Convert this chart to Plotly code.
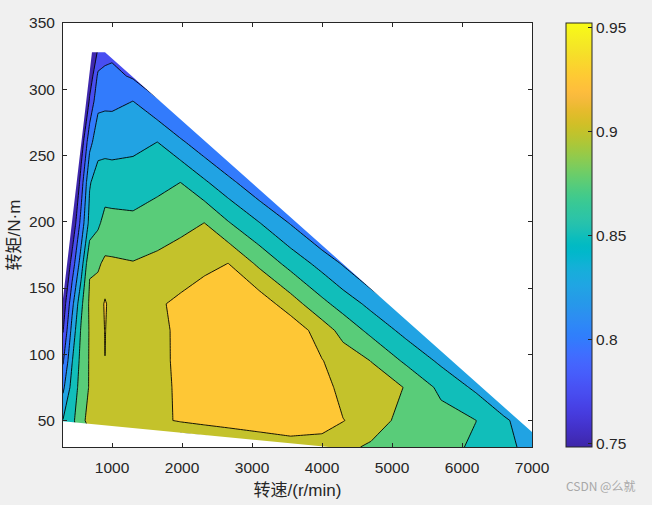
import plotly.graph_objects as go

# ---------------- data ----------------
speed = [300, 430, 560, 680, 800, 900, 1000, 1300, 1650, 1980, 2320, 2660,
         3100, 3550, 4000, 4300, 4700, 5200, 5700, 6200, 6600, 7000]
torque = [30, 50, 75, 95, 118, 138, 168.5, 199, 229.5, 260, 291, 310, 330]

eff_t30 = [0.86, 0.865, 0.88, 0.893, 0.899, 0.903, 0.904, 0.905, 0.905, 0.87, 0.875, 0.886,
           0.9025, 0.9146, 0.915, 0.905, 0.897, 0.889, 0.8815, 0.8718, 0.8569, 0.842]
eff_t50 = [0.851, 0.8677, 0.8956, 0.905, 0.909, 0.911, 0.912, 0.915, 0.919, 0.928, 0.935, 0.94,
           0.942, 0.94, 0.935, 0.926, 0.911, 0.892, 0.885, 0.8752, 0.8544, 0.8333]
eff_t75 = [0.8193, 0.8594, 0.8852, 0.902, 0.909, 0.913, 0.913, 0.916, 0.92, 0.928, 0.937, 0.944,
           0.948, 0.948, 0.94, 0.913, 0.911, 0.899, 0.8688, 0.845, 0.8205, 0.797]
eff_t95 = [0.797, 0.8487, 0.883, 0.902, 0.91, 0.9248, 0.914, 0.917, 0.92, 0.929, 0.938, 0.946,
           0.951, 0.952, 0.926, 0.913, 0.8996, 0.8704, 0.845, 0.813, 0.783, 0.753]
eff_t118 = [0.7733, 0.8337, 0.8782, 0.902, 0.911, 0.926, 0.915, 0.917, 0.919, 0.93, 0.938, 0.945,
            0.948, 0.942, 0.9123, 0.8918, 0.8684, 0.8419, 0.8092, 0.7718, 0.742, 0.71]
eff_t138 = [0.758, 0.8178, 0.8695, 0.904, 0.911, 0.928, 0.915, 0.918, 0.922, 0.93, 0.94, 0.945,
            0.94, 0.9118, 0.8817, 0.8647, 0.8431, 0.8108, 0.7736, 0.74, 0.71, 0.68]
eff_t168 = [0.732, 0.7854, 0.8375, 0.8975, 0.897, 0.904, 0.9035, 0.9012, 0.906, 0.9116, 0.9183, 0.9252,
            0.8948, 0.8665, 0.8411, 0.8226, 0.7941, 0.7566, 0.72, 0.69, 0.66, 0.63]
eff_t199 = [0.70, 0.7518, 0.8092, 0.858, 0.8705, 0.8832, 0.8825, 0.8807, 0.887, 0.8935, 0.9002, 0.877,
            0.8512, 0.8235, 0.7927, 0.7717, 0.73, 0.69, 0.66, 0.63, 0.60, 0.57]
eff_t229 = [0.66, 0.72, 0.7875, 0.848, 0.8615, 0.8624, 0.8617, 0.8618, 0.8686, 0.8752, 0.8541, 0.8331,
            0.8046, 0.7733, 0.74, 0.72, 0.69, 0.66, 0.63, 0.60, 0.57, 0.54]
eff_t260 = [0.63, 0.67, 0.7594, 0.8173, 0.8403, 0.8416, 0.8409, 0.8436, 0.8502, 0.8296, 0.8081, 0.785,
            0.754, 0.72, 0.69, 0.67, 0.64, 0.61, 0.58, 0.55, 0.52, 0.49]
eff_t291 = [0.60, 0.63, 0.70, 0.7794, 0.8186, 0.8198, 0.8197, 0.8251, 0.8037, 0.7808, 0.757, 0.735,
            0.71, 0.68, 0.65, 0.63, 0.60, 0.57, 0.54, 0.51, 0.48, 0.45]
eff_t310 = [0.59, 0.62, 0.68, 0.7563, 0.805, 0.8064, 0.807, 0.7967, 0.7725, 0.75, 0.73, 0.71,
            0.69, 0.66, 0.63, 0.61, 0.58, 0.55, 0.52, 0.49, 0.46, 0.43]
eff_t330 = [0.57, 0.60, 0.65, 0.73, 0.777, 0.79, 0.793, 0.763, 0.74, 0.72, 0.70, 0.68,
            0.66, 0.63, 0.60, 0.58, 0.55, 0.52, 0.49, 0.46, 0.43, 0.40]

efficiency = [eff_t30, eff_t50, eff_t75, eff_t95, eff_t118, eff_t138, eff_t168,
              eff_t199, eff_t229, eff_t260, eff_t291, eff_t310, eff_t330]

# operating envelope (max-torque boundary) and lower boundary of measured region
env_speed = [300, 714, 900, 7000]
env_torque = [142, 328, 328, 41.3]
floor_speed = [300, 4100]
floor_torque = [49.5, 30]

levels_start, levels_end, levels_step = 0.775, 0.925, 0.025
cbar_min, cbar_max = 0.7484, 0.9522
cbar_ticks = [0.75, 0.8, 0.85, 0.9, 0.95]
cbar_ticktext = ["0.75", "0.8", "0.85", "0.9", "0.95"]
x_ticks = [1000, 2000, 3000, 4000, 5000, 6000, 7000]
y_ticks = [50, 100, 150, 200, 250, 300, 350]
x_range = [300, 7000]
y_range = [30, 350]

# ---------------- style: parula colormap ----------------
PARULA = [
    (0.2422, 0.1504, 0.6603), (0.2504, 0.1650, 0.7076), (0.2578, 0.1818, 0.7511), (0.2647, 0.1978, 0.7952),
    (0.2706, 0.2147, 0.8364), (0.2751, 0.2342, 0.8710), (0.2783, 0.2559, 0.8991), (0.2803, 0.2782, 0.9221),
    (0.2813, 0.3006, 0.9414), (0.2810, 0.3228, 0.9579), (0.2795, 0.3447, 0.9717), (0.2760, 0.3667, 0.9829),
    (0.2699, 0.3892, 0.9906), (0.2602, 0.4123, 0.9952), (0.2440, 0.4358, 0.9988), (0.2206, 0.4603, 0.9973),
    (0.1963, 0.4847, 0.9892), (0.1834, 0.5074, 0.9798), (0.1786, 0.5289, 0.9682), (0.1764, 0.5499, 0.9520),
    (0.1687, 0.5703, 0.9359), (0.1540, 0.5902, 0.9218), (0.1460, 0.6091, 0.9079), (0.1380, 0.6276, 0.8973),
    (0.1248, 0.6459, 0.8883), (0.1113, 0.6635, 0.8763), (0.0952, 0.6798, 0.8598), (0.0689, 0.6948, 0.8394),
    (0.0297, 0.7082, 0.8163), (0.0036, 0.7203, 0.7917), (0.0067, 0.7312, 0.7660), (0.0433, 0.7411, 0.7394),
    (0.0964, 0.7500, 0.7120), (0.1408, 0.7584, 0.6842), (0.1717, 0.7670, 0.6554), (0.1938, 0.7758, 0.6251),
    (0.2161, 0.7843, 0.5923), (0.2470, 0.7918, 0.5567), (0.2906, 0.7973, 0.5188), (0.3406, 0.8008, 0.4789),
    (0.3909, 0.8029, 0.4354), (0.4456, 0.8024, 0.3909), (0.5044, 0.7993, 0.3480), (0.5616, 0.7942, 0.3045),
    (0.6174, 0.7876, 0.2612), (0.6720, 0.7793, 0.2227), (0.7242, 0.7698, 0.1910), (0.7738, 0.7598, 0.1646),
    (0.8203, 0.7498, 0.1535), (0.8634, 0.7406, 0.1596), (0.9035, 0.7330, 0.1774), (0.9393, 0.7288, 0.2100),
    (0.9728, 0.7298, 0.2394), (0.9956, 0.7434, 0.2371), (0.9970, 0.7659, 0.2199), (0.9952, 0.7893, 0.2028),
    (0.9892, 0.8136, 0.1885), (0.9786, 0.8386, 0.1766), (0.9676, 0.8639, 0.1643), (0.9610, 0.8890, 0.1537),
    (0.9597, 0.9135, 0.1423), (0.9628, 0.9373, 0.1265), (0.9691, 0.9606, 0.1064), (0.9769, 0.9839, 0.0805),
]


def rgb(c):
    return "rgb(%d,%d,%d)" % tuple(round(255 * v) for v in c)


def parula_at(t):
    t = min(max(t, 0.0), 1.0)
    f = t * (len(PARULA) - 1)
    i = min(int(f), len(PARULA) - 2)
    w = f - i
    a, b = PARULA[i], PARULA[i + 1]
    return tuple(a[k] + (b[k] - a[k]) * w for k in range(3))


parula_scale = [[i / (len(PARULA) - 1), rgb(c)] for i, c in enumerate(PARULA)]

# band colours: MATLAB colours each filled band by its lower level
n_levels = int(round((levels_end - levels_start) / levels_step)) + 1
band_lower = [levels_start - levels_step + k * levels_step for k in range(n_levels + 1)]
band_cols = [rgb(parula_at((v - cbar_min) / (cbar_max - cbar_min))) for v in band_lower]
step_scale = []
for j, col in enumerate(band_cols):
    lo = max(0.0, (j - 0.5) / n_levels)
    hi = min(1.0, (j + 0.5) / n_levels)
    step_scale.append([lo, col])
    step_scale.append([hi, col])

AX = "#262626"
LATIN = "Liberation Sans, Arial, sans-serif"
TICKFONT = dict(family=LATIN, size=15.5, color=AX)
CJK = "Noto Sans CJK SC, Noto Sans, sans-serif"

fig = go.Figure()

fig.add_trace(go.Contour(
    x=speed, y=torque, z=efficiency,
    autocontour=False,
    contours=dict(start=levels_start, end=levels_end, size=levels_step,
                  coloring="fill", showlines=True),
    colorscale=step_scale,
    line=dict(color="black", width=0.9, smoothing=0),
    showscale=False,
    hoverinfo="skip",
))

# white masks outside the measured operating region
fig.add_trace(go.Scatter(
    x=env_speed + [x_range[1], x_range[0]],
    y=env_torque + [y_range[1] + 5, y_range[1] + 5],
    mode="lines", fill="toself", fillcolor="white",
    line=dict(width=0, color="white"), hoverinfo="skip", showlegend=False,
))
fig.add_trace(go.Scatter(
    x=floor_speed + [floor_speed[1] + 50, x_range[0]],
    y=floor_torque + [y_range[0] - 5, y_range[0] - 5],
    mode="lines", fill="toself", fillcolor="white",
    line=dict(width=0, color="white"), hoverinfo="skip", showlegend=False,
))

# continuous parula colour bar
fig.add_trace(go.Scatter(
    x=[None], y=[None], mode="markers",
    marker=dict(color=[cbar_min], colorscale=parula_scale, cmin=cbar_min, cmax=cbar_max,
                showscale=True,
                colorbar=dict(
                    x=1.0725, xanchor="left", xpad=0,
                    y=0.5, yanchor="middle", ypad=0,
                    len=1, lenmode="fraction",
                    thickness=26, thicknessmode="pixels",
                    outlinecolor=AX, outlinewidth=1,
                    tickvals=cbar_ticks, ticktext=cbar_ticktext,
                    ticks="inside", ticklen=4, tickcolor=AX,
                    tickfont=TICKFONT,
                )),
    hoverinfo="skip", showlegend=False,
))

fig.update_layout(
    width=652, height=505,
    margin=dict(l=63, r=120, t=23, b=55),
    paper_bgcolor="#F0F0F0",
    plot_bgcolor="white",
    showlegend=False,
    xaxis=dict(
        range=x_range, tickvals=x_ticks, ticks="inside", ticklen=4, tickcolor=AX,
        showline=True, linecolor=AX, linewidth=1, mirror="ticks",
        showgrid=False, zeroline=False, tickfont=TICKFONT, ticklabelstandoff=6,
        title=dict(text="转速<span style='font-family:Liberation Sans'>/(r/min)</span>",
                   font=dict(family=CJK, size=17, color=AX), standoff=6),
    ),
    yaxis=dict(
        range=y_range, tickvals=y_ticks, ticks="inside", ticklen=4, tickcolor=AX,
        showline=True, linecolor=AX, linewidth=1, mirror="ticks",
        showgrid=False, zeroline=False, tickfont=TICKFONT, ticklabelstandoff=4,
        title=dict(text="转矩<span style='font-family:Liberation Sans'>/N·m</span>",
                   font=dict(family=CJK, size=17, color=AX), standoff=5),
    ),
    annotations=[dict(
        text="CSDN @么就", x=1.224, y=-0.091, xref="paper", yref="paper",
        xanchor="right", yanchor="middle", showarrow=False,
        font=dict(family=CJK, size=12, color="#A8A8A8"),
    )],
)

fig.write_html(
    "out.html",
    config={"displayModeBar": False},
    post_script="document.body.style.margin='0';document.body.style.background='#F0F0F0';",
)
